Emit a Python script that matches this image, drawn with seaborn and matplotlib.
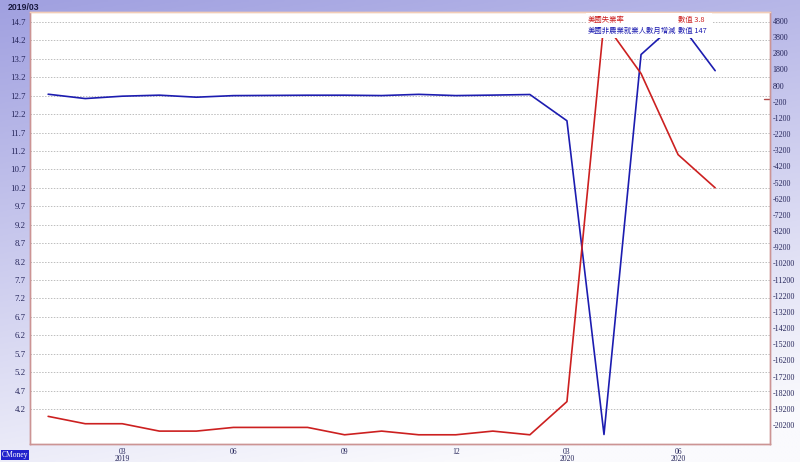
import numpy as np
import pandas as pd
import matplotlib
matplotlib.use("Agg")
import matplotlib.pyplot as plt
import seaborn as sns
from matplotlib.patches import Rectangle

# 月份 2019/01 ~ 2020/07
months = pd.date_range("2019-01-01", "2020-07-01", freq="MS")
unemployment = [4.0, 3.8, 3.8, 3.6, 3.6, 3.7, 3.7, 3.7, 3.5, 3.6, 3.5, 3.5,
                3.6, 3.5, 4.4, 14.7, 13.3, 11.1, 10.2]
payrolls = [269, 1, 147, 210, 85, 182, 194, 207, 208, 185, 261, 184,
            214, 251, -1373, -20787, 2725, 4781, 1726]

left_ticks = np.round(np.arange(4.2, 14.71, 0.5), 1)
right_ticks = np.arange(-20200, 4801, 1000)
tick_pos = list(range(1, 19))
tick_text = {2: "03\n2019", 5: "06", 8: "09", 11: "12", 14: "03\n2020", 17: "06\n2020"}

df = pd.DataFrame({"idx": range(len(months)), "rate": unemployment, "nfp": payrolls})

sns.set_style("white")
plt.rcParams["font.family"] = ["Liberation Serif", "Noto Sans CJK TC", "DejaVu Sans"]

fig = plt.figure(figsize=(8, 4.62), dpi=100)

# 背景漸層
bg = fig.add_axes([0, 0, 1, 1], zorder=-10)
yy, xx = np.mgrid[0:1:200j, 0:1:200j]
t = np.clip(0.85 * yy + 0.25 * xx, 0, 1)
top = np.array([160, 160, 224]) / 255
bot = np.array([250, 250, 253]) / 255
img = top[None, None, :] * (1 - t[..., None]) + bot[None, None, :] * t[..., None]
bg.imshow(img, aspect="auto", extent=[0, 1, 0, 1], origin="upper")
bg.axis("off")

ax = fig.add_axes([30 / 800, 1 - 444 / 462, 740 / 800, 432 / 462])
ax.set_facecolor("white")
ax2 = ax.twinx()

sns.lineplot(data=df, x="idx", y="nfp", ax=ax2, color="#1c1cb0", lw=1.2)
sns.lineplot(data=df, x="idx", y="rate", ax=ax, color="#cc2020", lw=1.2)
ax.set_zorder(ax2.get_zorder() + 1)
ax.patch.set_visible(False)
ax2.patch.set_visible(True)
ax2.patch.set_facecolor("white")

ax.set_xlim(-0.49, 19.48)
ax.set_ylim(3.25, 14.97)
ax2.set_ylim(-21376, 5357)

for y in left_ticks:
    ax2.axhline(ax2.get_ylim()[0] + (y - 3.25) / (14.97 - 3.25) * (5357 + 21376),
                color="#bdbdbd", lw=0.7, ls=(0, (1.5, 1.5)), zorder=0)

ax.set_yticks(left_ticks)
ax.set_yticklabels([f"{v:.1f}" for v in left_ticks])
ax2.set_yticks(right_ticks)
ax2.set_yticklabels([str(v) for v in right_ticks])
ax.set_xticks(tick_pos)
ax.set_xticklabels([tick_text.get(p, "") for p in tick_pos], linespacing=0.75)
ax.set_xlabel("")
ax.set_ylabel("")
ax2.set_ylabel("")

ax.tick_params(axis="y", length=0, labelsize=6.3, labelcolor="#25255a", pad=3)
ax2.tick_params(axis="y", length=0, labelsize=5.8, labelcolor="#25255a", pad=2)
ax.tick_params(axis="x", length=3, color="#c88c8c", labelsize=5.5,
               labelcolor="#25255a", pad=0)
ax2.axhline(0, xmin=0.992, xmax=1.0, color="#b04848", lw=1.0)

for a in (ax, ax2):
    for s in ("left", "right", "bottom"):
        a.spines[s].set_color("#cc9494")
        a.spines[s].set_linewidth(1.0)
    a.spines["top"].set_color("#f2cdb8")
    a.spines["top"].set_linewidth(1.0)

# 圖例
ax.add_patch(Rectangle((0.751, 0.94), 0.17, 0.058, transform=ax.transAxes,
                       facecolor="white", edgecolor="none", zorder=5))
cjk = ["Noto Sans CJK TC", "DejaVu Sans"]
ax.text(0.754, 0.981, "美國失業率", transform=ax.transAxes, color="#cc2020",
        fontsize=5.3, va="center", family=cjk, zorder=6)
ax.text(0.876, 0.981, "數值 3.8", transform=ax.transAxes, color="#cc2020",
        fontsize=5.3, va="center", family=cjk, zorder=6)
ax.text(0.754, 0.956, "美國非農業就業人數月增減", transform=ax.transAxes,
        color="#1c1cb0", fontsize=5.3, va="center", family=cjk, zorder=6)
ax.text(0.876, 0.956, "數值 147", transform=ax.transAxes, color="#1c1cb0",
        fontsize=5.3, va="center", family=cjk, zorder=6)

fig.text(0.01, 1 - 7 / 462, "2019/03", fontsize=6.3, fontweight="bold",
         color="#1a1a40", va="center", family=["Liberation Sans"])
fig.text(0.002, 1 - 455 / 462, "CMoney", fontsize=5.5, color="white",
         va="center", family=["Liberation Serif"],
         bbox=dict(facecolor="#2222cc", edgecolor="none", pad=0.6))

fig.savefig("out.png", dpi=100)
